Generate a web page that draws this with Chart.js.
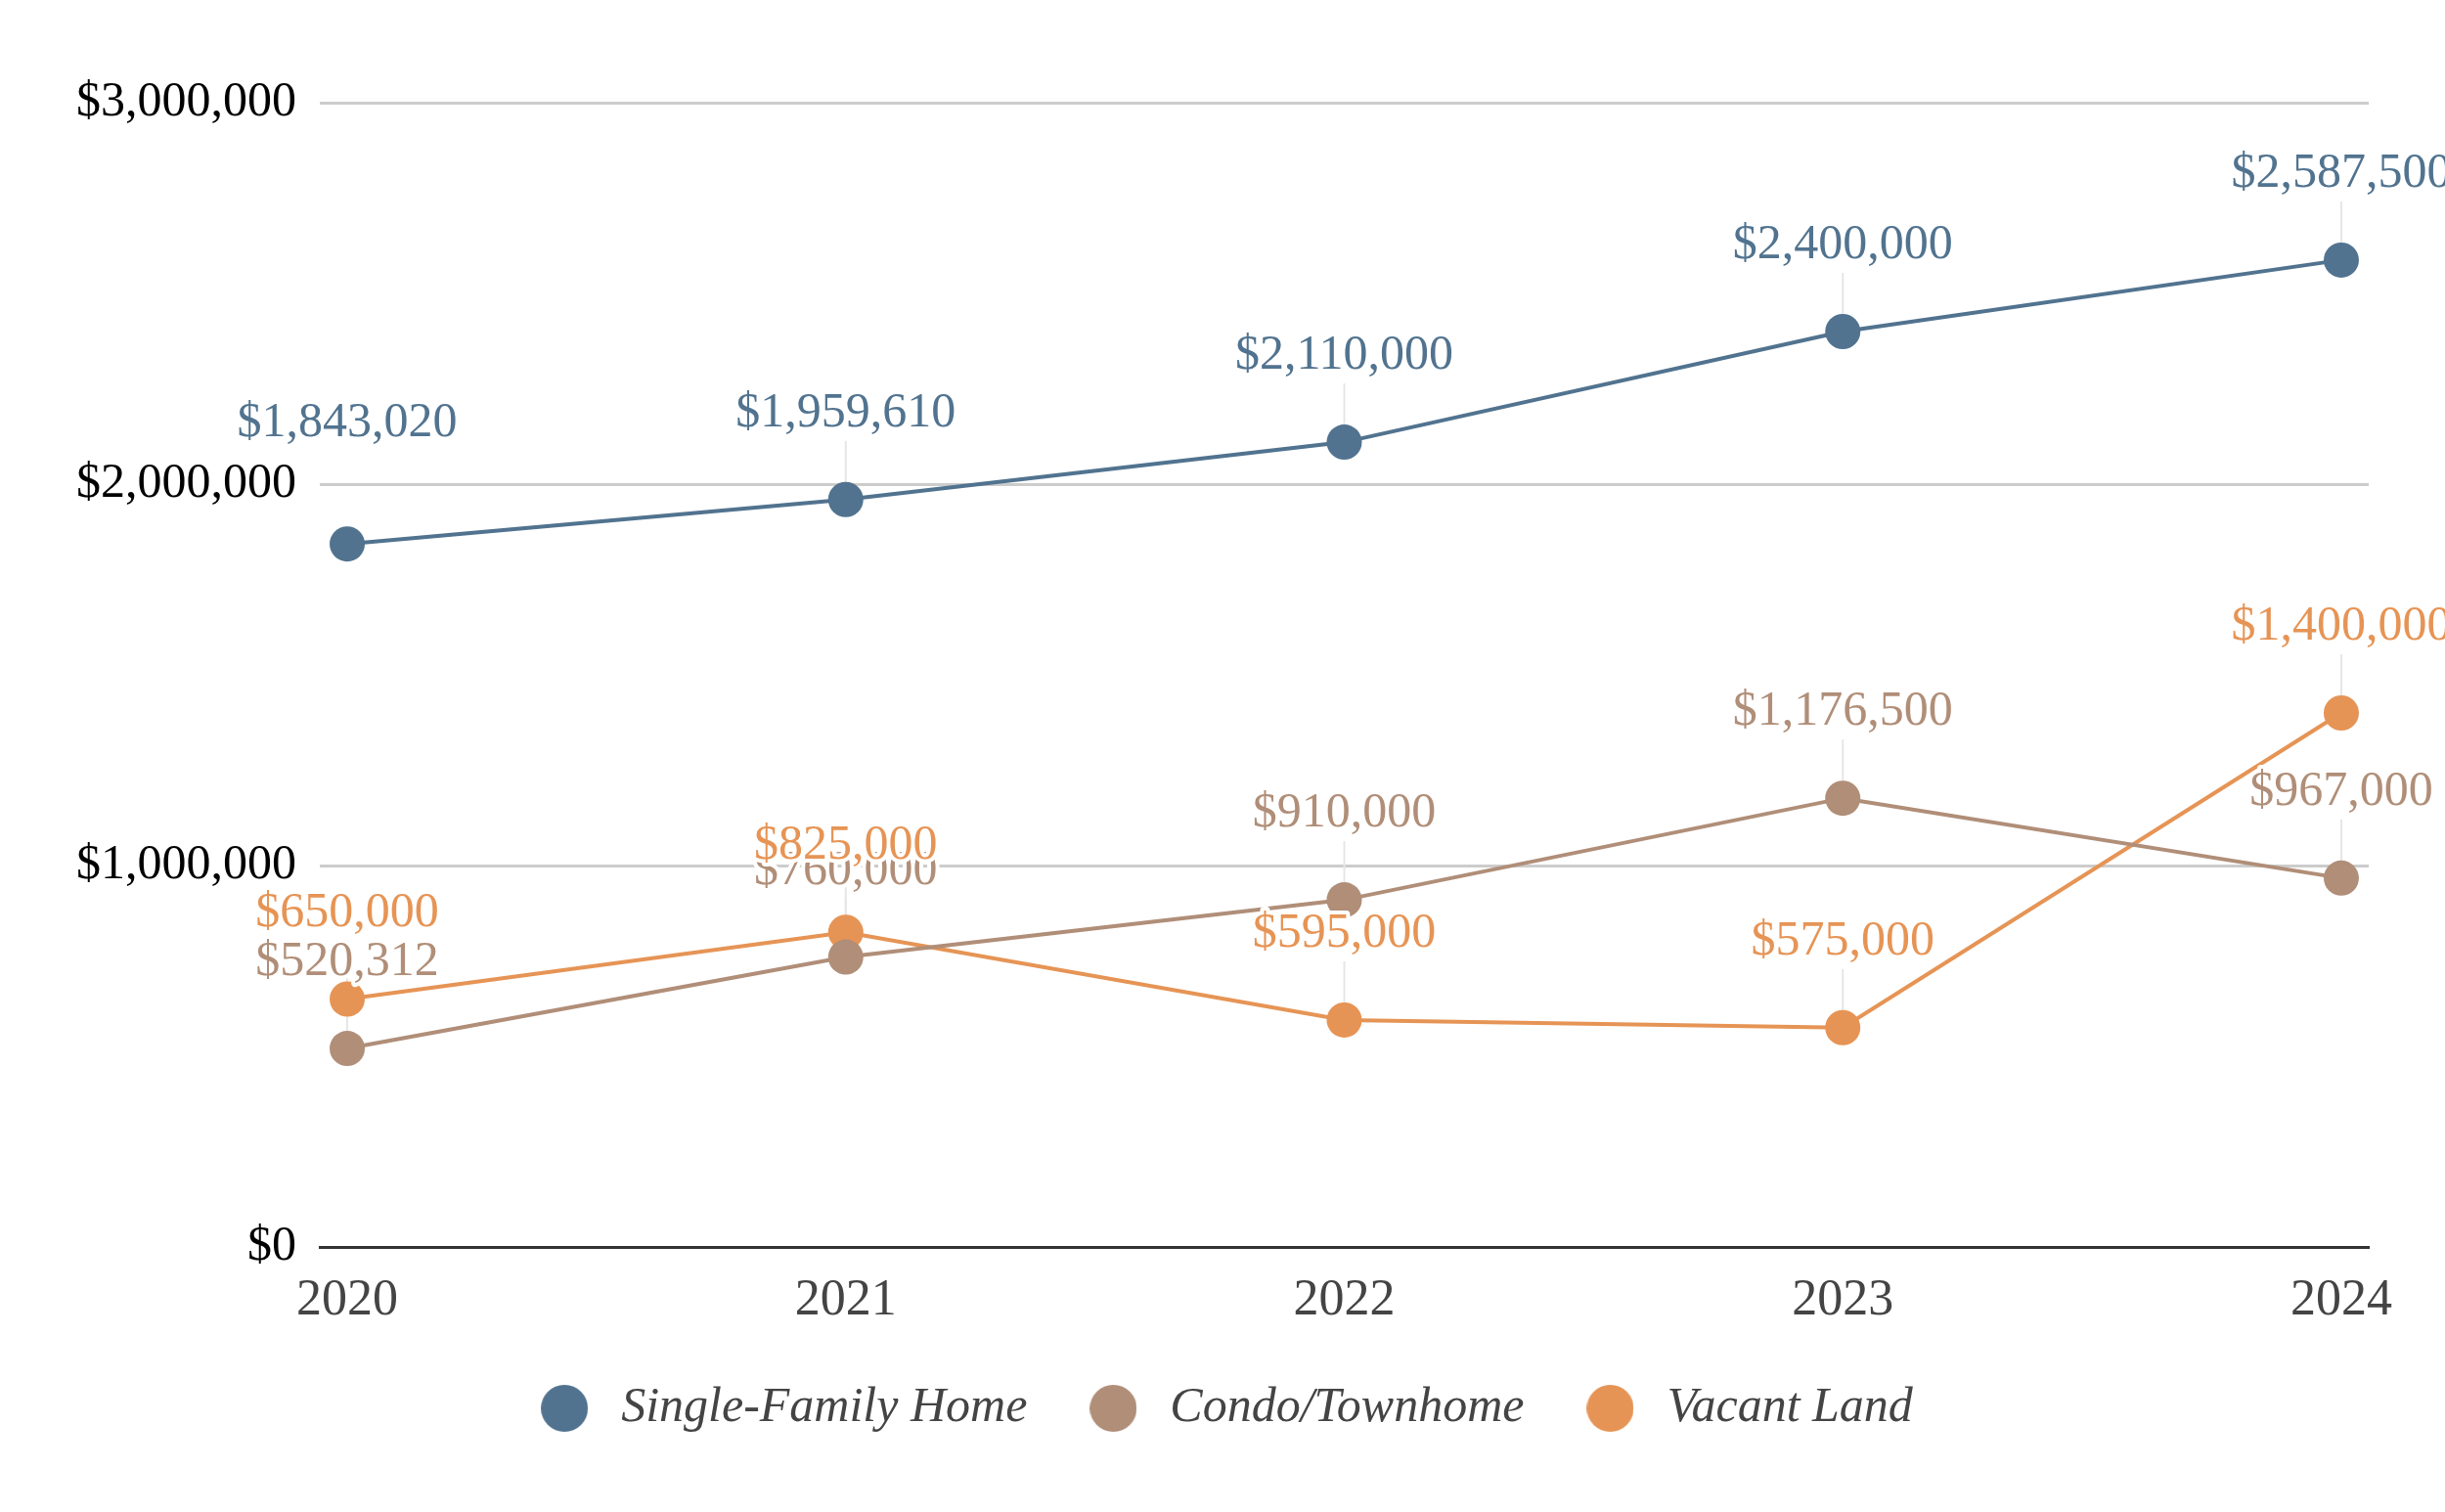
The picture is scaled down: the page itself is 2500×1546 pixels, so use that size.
<!DOCTYPE html>
<html>
<head>
<meta charset="utf-8">
<script src="https://cdn.jsdelivr.net/npm/chart.js@4.4.1/dist/chart.umd.min.js"></script>
<style>
  html, body { margin: 0; padding: 0; background: #ffffff; }
  #wrap { width: 2500px; height: 1546px; }
</style>
</head>
<body>
<div id="wrap"><canvas id="c" width="2500" height="1546"></canvas></div>
<script>
const years = [2020, 2021, 2022, 2023, 2024];
const singleFamily = [1843020, 1959610, 2110000, 2400000, 2587500];
const condoTownhome = [520312, 760000, 910000, 1176500, 967000];
const vacantLand = [650000, 825000, 595000, 575000, 1400000];
const seriesNames = ['Single-Family Home', 'Condo/Townhome', 'Vacant Land'];
const seriesColors = ['#51738f', '#b08e78', '#e69455'];
const yTicks = [0, 1000000, 2000000, 3000000];

const FONT = '"Liberation Serif", "Times New Roman", serif';
const money = v => '$' + Math.round(v).toLocaleString('en-US');

function circleImage(color, d) {
  const c = document.createElement('canvas');
  c.width = d; c.height = d;
  const g = c.getContext('2d');
  g.fillStyle = color;
  g.beginPath();
  g.arc(d / 2, d / 2, d / 2, 0, Math.PI * 2);
  g.fill();
  return c;
}

const toXY = arr => arr.map((v, i) => ({ x: years[i], y: v }));
const allSeries = [singleFamily, condoTownhome, vacantLand];

const datasets = allSeries.map((arr, i) => ({
  label: seriesNames[i],
  data: toXY(arr),
  yAxisID: 'y',
  borderColor: seriesColors[i],
  backgroundColor: seriesColors[i],
  pointBackgroundColor: seriesColors[i],
  pointBorderWidth: 0,
  pointRadius: 18,
  pointHoverRadius: 18,
  borderWidth: 4,
  tension: 0,
  clip: false
}));

const LABEL_OFFSET = 88;
const LABEL_FONT = 50;

// compute label positions, pushing labels above y-axis tick labels they would overlap
function labelLayout(chart) {
  const ctx = chart.ctx;
  const yScale = chart.scales.y;
  ctx.save();
  ctx.font = LABEL_FONT + 'px ' + FONT;
  const yLabelBoxes = yTicks.map(v => {
    const w = ctx.measureText(money(v)).width;
    const cy = yScale.getPixelForValue(v);
    return { left: yScale.right - 24 - w, right: yScale.right - 24, top: cy - 19, bottom: cy + 19 };
  });
  const out = [];
  chart.data.datasets.forEach((ds, di) => {
    const meta = chart.getDatasetMeta(di);
    meta.data.forEach((pt, i) => {
      const txt = money(ds.data[i].y);
      const w = ctx.measureText(txt).width;
      let y = pt.y - LABEL_OFFSET;
      let shifted = false;
      yLabelBoxes.forEach(b => {
        const l = pt.x - w / 2, r = pt.x + w / 2, t = y - 19, bt = y + 19;
        if (l < b.right && r > b.left && t < b.bottom && bt > b.top) {
          y = b.top - 43;
          shifted = true;
        }
      });
      out.push({ di, x: pt.x, y, py: pt.y, txt, shifted });
    });
  });
  ctx.restore();
  return out;
}

const labelPlugin = {
  id: 'valueLabels',
  beforeDatasetsDraw(chart) {
    const ctx = chart.ctx;
    chart.$labels = labelLayout(chart);
    ctx.save();
    ctx.strokeStyle = '#e6e6e6';
    ctx.lineWidth = 2;
    chart.$labels.forEach(L => {
      if (L.shifted) return;
      ctx.beginPath();
      ctx.moveTo(L.x, L.y + 28);
      ctx.lineTo(L.x, L.py - 16);
      ctx.stroke();
    });
    ctx.restore();
  },
  afterDatasetsDraw(chart) {
    const ctx = chart.ctx;
    ctx.save();
    ctx.font = LABEL_FONT + 'px ' + FONT;
    ctx.textAlign = 'center';
    ctx.textBaseline = 'middle';
    ctx.lineJoin = 'round';
    (chart.$labels || []).forEach(L => {
      ctx.strokeStyle = '#ffffff';
      ctx.lineWidth = 8;
      ctx.strokeText(L.txt, L.x, L.y);
      ctx.fillStyle = seriesColors[L.di];
      ctx.fillText(L.txt, L.x, L.y);
    });
    ctx.restore();
  }
};

new Chart(document.getElementById('c'), {
  type: 'line',
  data: { datasets },
  plugins: [labelPlugin],
  options: {
    responsive: false,
    devicePixelRatio: 1,
    animation: false,
    events: [],
    layout: { padding: { top: 105, right: 0, left: 0, bottom: 71 } },
    scales: {
      x: {
        type: 'linear',
        min: years[0] - 0.055,
        max: years[years.length - 1] + 0.055,
        afterBuildTicks(scale) { scale.ticks = years.map(v => ({ value: v })); },
        afterFit(scale) { scale.height = 85; },
        grid: { display: false, drawTicks: false },
        border: { display: true, color: '#333333', width: 3 },
        ticks: {
          font: { family: FONT, size: 52 },
          color: '#444444',
          padding: 24,
          autoSkip: false,
          maxRotation: 0,
          callback: v => String(v)
        }
      },
      y: {
        position: 'left',
        min: 0,
        max: 3000000,
        afterBuildTicks(scale) { scale.ticks = yTicks.map(v => ({ value: v })); },
        afterFit(scale) { scale.width = 327; },
        grid: { color: '#cccccc', lineWidth: 3, drawTicks: false },
        border: { display: false },
        ticks: {
          font: { family: FONT, size: 50 },
          color: '#000000',
          padding: 24,
          callback: v => money(v)
        }
      },
      yRightSpace: {
        position: 'right',
        display: true,
        afterFit(scale) { scale.width = 78; },
        grid: { display: false, drawTicks: false },
        border: { display: false },
        ticks: { display: false }
      }
    },
    plugins: {
      tooltip: { enabled: false },
      legend: {
        display: true,
        position: 'bottom',
        labels: {
          usePointStyle: true,
          pointStyleWidth: 66,
          boxHeight: 34,
          padding: 55,
          color: '#444444',
          font: { family: FONT, size: 50, style: 'italic' },
          generateLabels(chart) {
            const items = Chart.defaults.plugins.legend.labels.generateLabels(chart);
            items.forEach((it, i) => {
              it.pointStyle = circleImage(seriesColors[i], 48);
              it.lineWidth = 0;
            });
            return items;
          }
        }
      }
    }
  }
});
</script>
</body>
</html>
